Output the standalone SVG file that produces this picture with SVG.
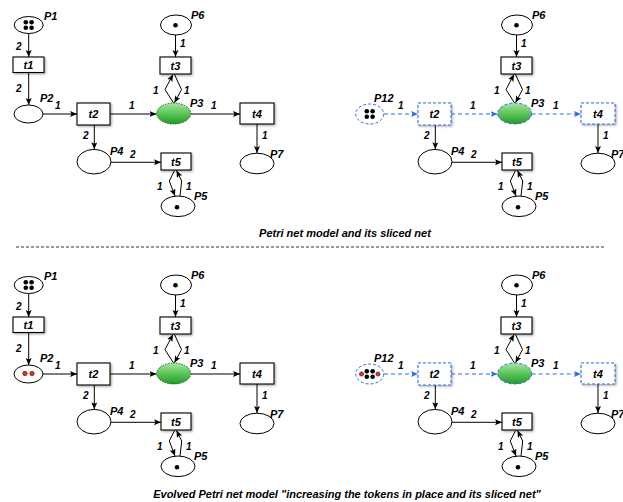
<svg xmlns="http://www.w3.org/2000/svg" width="623" height="502" viewBox="0 0 623 502">
  <defs>
    <style>
      .place { fill: #fff; stroke: #000; stroke-width: 1; }
      .trans { fill: #fff; stroke: #000; stroke-width: 1.1; filter: url(#shadow); }
      .slice-t { fill: #fff; stroke: #2f6de8; stroke-width: 1.1; stroke-dasharray: 3 2; filter: url(#shadow); }
      .slice-p { fill: #fff; stroke: #2f6de8; stroke-width: 1; stroke-dasharray: 3 2; }
      .hot { fill: url(#green); stroke: #1d5a1d; stroke-width: 0.9; stroke-dasharray: 1.5 1.2; }
      .hot-slice { fill: url(#green); stroke: #2f6de8; stroke-width: 1; stroke-dasharray: 3 2; }
      .arc { fill: none; stroke: #000; stroke-width: 1; marker-end: url(#ah); }
      .arc-s { fill: none; stroke: #2f6de8; stroke-width: 1.1; stroke-dasharray: 4 3; marker-end: url(#ahb); }
      .tok { fill: #000; }
      .red { fill: #e0301e; stroke: #4a0e08; stroke-width: 0.6; }
      text { font-family: "Liberation Sans", Arial, sans-serif; font-weight: bold; font-style: italic; fill: #000; }
      .name { font-size: 11px; }
      .tl { font-size: 11px; text-anchor: middle; }
      .w { font-size: 10px; }
      .cap { font-size: 11px; text-anchor: middle; }
    </style>
    <linearGradient id="green" x1="0" y1="0" x2="0" y2="1">
      <stop offset="0" stop-color="#a6e6a0"/>
      <stop offset="0.55" stop-color="#55c252"/>
      <stop offset="1" stop-color="#249a2a"/>
    </linearGradient>
    <filter id="shadow" x="-20%" y="-20%" width="150%" height="160%">
      <feDropShadow dx="1.2" dy="1.2" stdDeviation="0.8" flood-color="#000" flood-opacity="0.35"/>
    </filter>
    <marker id="ah" markerUnits="userSpaceOnUse" markerWidth="8" markerHeight="7" refX="7" refY="3" orient="auto">
      <path d="M0,0 L7,3 L0,6 L1.5,3 z" fill="#000"/>
    </marker>
    <marker id="ahb" markerUnits="userSpaceOnUse" markerWidth="8" markerHeight="7" refX="7" refY="3" orient="auto">
      <path d="M0,0 L7,3 L0,6 L1.5,3 z" fill="#2f6de8"/>
    </marker>
  </defs>

  <rect width="623" height="502" fill="#fff"/>

  <!-- ===== Original Petri net (top left) ===== -->
  <g id="net-a">
    <g id="a-connectors">
      <line class="arc" x1="28.7" y1="33.5" x2="28.7" y2="57"/>
      <line class="arc" x1="28.7" y1="72.5" x2="28.7" y2="105"/>
      <line class="arc" x1="43" y1="114" x2="77" y2="114"/>
      <line class="arc" x1="110" y1="114" x2="156.5" y2="114"/>
      <line class="arc" x1="190.7" y1="114" x2="240" y2="114"/>
      <line class="arc" x1="257" y1="124" x2="257" y2="153"/>
      <line class="arc" x1="175.5" y1="35" x2="175.5" y2="57"/>
      <polyline class="arc" points="173.5,103 165,89.5 173,74.5"/>
      <polyline class="arc" points="174.5,74.5 181.5,89.5 174.5,102.8"/>
      <line class="arc" x1="94.3" y1="125" x2="94.3" y2="149.3"/>
      <line class="arc" x1="111" y1="162.3" x2="161" y2="162.3"/>
      <polyline class="arc" points="174.5,170.5 169.3,181 175,196"/>
      <polyline class="arc" points="180,196 181.7,181 176.5,170.5"/>
      <text class="w" x="16" y="50">2</text>
      <text class="w" x="16" y="92">2</text>
      <text class="w" x="55" y="109">1</text>
      <text class="w" x="129" y="109">1</text>
      <text class="w" x="211" y="109">1</text>
      <text class="w" x="262" y="139">1</text>
      <text class="w" x="180" y="47">1</text>
      <text class="w" x="153" y="94">1</text>
      <text class="w" x="184" y="94">1</text>
      <text class="w" x="83" y="139">2</text>
      <text class="w" x="130" y="158">2</text>
      <text class="w" x="157" y="190">1</text>
      <text class="w" x="186" y="190">1</text>
    </g>
    <g id="a-P1">
      <ellipse class="place" cx="28.7" cy="25" rx="14.5" ry="8.5"/>
      <circle class="tok" cx="25.8" cy="22.2" r="2.3"/><circle class="tok" cx="31.6" cy="22.2" r="2.3"/>
      <circle class="tok" cx="25.8" cy="27.8" r="2.3"/><circle class="tok" cx="31.6" cy="27.8" r="2.3"/>
      <text class="name" x="44" y="20">P1</text>
    </g>
    <g id="a-t1"><rect class="trans" x="13" y="57" width="31" height="15.5"/><text class="tl" x="28.5" y="69">t1</text></g>
    <g id="a-P2">
      <ellipse class="place" cx="28.5" cy="114" rx="14.5" ry="9"/>
      <text class="name" x="40" y="102">P2</text>
    </g>
    <g id="a-t2"><rect class="trans" x="77" y="103" width="33" height="22"/><text class="tl" x="93.5" y="118">t2</text></g>
    <g id="a-P3">
      <ellipse class="hot" cx="173.7" cy="113.5" rx="17" ry="10.5"/>
      <text class="name" x="190" y="107">P3</text>
    </g>
    <g id="a-t4"><rect class="trans" x="240" y="103" width="34" height="21"/><text class="tl" x="257" y="118">t4</text></g>
    <g id="a-P7">
      <ellipse class="place" cx="257" cy="163.5" rx="17" ry="10.3"/>
      <text class="name" x="270" y="158">P7</text>
    </g>
    <g id="a-P6">
      <ellipse class="place" cx="176" cy="25" rx="15.5" ry="10"/>
      <circle class="tok" cx="175.5" cy="25.3" r="2.3"/>
      <text class="name" x="191" y="19">P6</text>
    </g>
    <g id="a-t3"><rect class="trans" x="160" y="57" width="31" height="17"/><text class="tl" x="175.5" y="70">t3</text></g>
    <g id="a-P4">
      <ellipse class="place" cx="94" cy="161.7" rx="17" ry="12.3"/>
      <text class="name" x="110" y="155">P4</text>
    </g>
    <g id="a-t5"><rect class="trans" x="161" y="153" width="30" height="17"/><text class="tl" x="176" y="166">t5</text></g>
    <g id="a-P5">
      <ellipse class="place" cx="178" cy="206.3" rx="17" ry="10.3"/>
      <circle class="tok" cx="177" cy="207.3" r="2.3"/>
      <text class="name" x="194" y="200">P5</text>
    </g>
  </g>

  <!-- ===== Sliced net (top right) ===== -->
  <g id="net-b" transform="translate(341,0)">
    <g id="b-connectors">
      <line class="arc-s" x1="43" y1="114" x2="77" y2="114"/>
      <line class="arc-s" x1="110" y1="114" x2="156.5" y2="114"/>
      <line class="arc-s" x1="190.7" y1="114" x2="240" y2="114"/>
      <line class="arc" x1="257" y1="124" x2="257" y2="153"/>
      <line class="arc" x1="175.5" y1="35" x2="175.5" y2="57"/>
      <polyline class="arc" points="173.5,103 165,89.5 173,74.5"/>
      <polyline class="arc" points="174.5,74.5 181.5,89.5 174.5,102.8"/>
      <line class="arc" x1="94.3" y1="125" x2="94.3" y2="149.3"/>
      <line class="arc" x1="111" y1="162.3" x2="161" y2="162.3"/>
      <polyline class="arc" points="174.5,170.5 169.3,181 175,196"/>
      <polyline class="arc" points="180,196 181.7,181 176.5,170.5"/>
      <text class="w" x="57" y="109">1</text>
      <text class="w" x="129" y="109">1</text>
      <text class="w" x="212" y="109">1</text>
      <text class="w" x="262" y="139">1</text>
      <text class="w" x="180" y="47">1</text>
      <text class="w" x="153" y="94">1</text>
      <text class="w" x="184" y="94">1</text>
      <text class="w" x="83" y="139">2</text>
      <text class="w" x="130" y="158">2</text>
      <text class="w" x="157" y="190">1</text>
      <text class="w" x="186" y="190">1</text>
    </g>
    <g id="b-P12">
      <ellipse class="slice-p" cx="28.7" cy="114" rx="14" ry="10"/>
      <circle class="tok" cx="25.8" cy="111.2" r="2.3"/><circle class="tok" cx="31.6" cy="111.2" r="2.3"/>
      <circle class="tok" cx="25.8" cy="116.8" r="2.3"/><circle class="tok" cx="31.6" cy="116.8" r="2.3"/>
      <text class="name" x="33" y="102">P12</text>
    </g>
    <g id="b-t2"><rect class="slice-t" x="77" y="103" width="33" height="22"/><text class="tl" x="93.5" y="118">t2</text></g>
    <g id="b-P3">
      <ellipse class="hot-slice" cx="173.7" cy="113.5" rx="17" ry="10.5"/>
      <text class="name" x="190" y="107">P3</text>
    </g>
    <g id="b-t4"><rect class="slice-t" x="240" y="103" width="34" height="21"/><text class="tl" x="257" y="118">t4</text></g>
    <g id="b-P7">
      <ellipse class="place" cx="257" cy="163.5" rx="17" ry="10.3"/>
      <text class="name" x="270" y="158">P7</text>
    </g>
    <g id="b-P6">
      <ellipse class="place" cx="176" cy="25" rx="15.5" ry="10"/>
      <circle class="tok" cx="175.5" cy="25.3" r="2.3"/>
      <text class="name" x="191" y="19">P6</text>
    </g>
    <g id="b-t3"><rect class="trans" x="160" y="57" width="31" height="17"/><text class="tl" x="175.5" y="70">t3</text></g>
    <g id="b-P4">
      <ellipse class="place" cx="94" cy="161.7" rx="17" ry="12.3"/>
      <text class="name" x="110" y="155">P4</text>
    </g>
    <g id="b-t5"><rect class="trans" x="161" y="153" width="30" height="17"/><text class="tl" x="176" y="166">t5</text></g>
    <g id="b-P5">
      <ellipse class="place" cx="178" cy="206.3" rx="17" ry="10.3"/>
      <circle class="tok" cx="177" cy="207.3" r="2.3"/>
      <text class="name" x="194" y="200">P5</text>
    </g>
  </g>

  <!-- caption and separator -->
  <text class="cap" x="345" y="237">Petri net model and its sliced net</text>
  <line x1="16" y1="247" x2="606" y2="247" stroke="#000" stroke-width="0.8" stroke-dasharray="3 2"/>

  <!-- ===== Evolved Petri net (bottom left) ===== -->
  <g id="net-c" transform="translate(0,260)">
    <g id="c-connectors">
      <line class="arc" x1="28.7" y1="33.5" x2="28.7" y2="57"/>
      <line class="arc" x1="28.7" y1="72.5" x2="28.7" y2="105"/>
      <line class="arc" x1="43" y1="114" x2="77" y2="114"/>
      <line class="arc" x1="110" y1="114" x2="156.5" y2="114"/>
      <line class="arc" x1="190.7" y1="114" x2="240" y2="114"/>
      <line class="arc" x1="257" y1="124" x2="257" y2="153"/>
      <line class="arc" x1="175.5" y1="35" x2="175.5" y2="57"/>
      <polyline class="arc" points="173.5,103 165,89.5 173,74.5"/>
      <polyline class="arc" points="174.5,74.5 181.5,89.5 174.5,102.8"/>
      <line class="arc" x1="94.3" y1="125" x2="94.3" y2="149.3"/>
      <line class="arc" x1="111" y1="162.3" x2="161" y2="162.3"/>
      <polyline class="arc" points="174.5,170.5 169.3,181 175,196"/>
      <polyline class="arc" points="180,196 181.7,181 176.5,170.5"/>
      <text class="w" x="16" y="50">2</text>
      <text class="w" x="16" y="92">2</text>
      <text class="w" x="55" y="109">1</text>
      <text class="w" x="129" y="109">1</text>
      <text class="w" x="211" y="109">1</text>
      <text class="w" x="262" y="139">1</text>
      <text class="w" x="180" y="47">1</text>
      <text class="w" x="153" y="94">1</text>
      <text class="w" x="184" y="94">1</text>
      <text class="w" x="83" y="139">2</text>
      <text class="w" x="130" y="158">2</text>
      <text class="w" x="157" y="190">1</text>
      <text class="w" x="186" y="190">1</text>
    </g>
    <g id="c-P1">
      <ellipse class="place" cx="28.7" cy="25" rx="14.5" ry="8.5"/>
      <circle class="tok" cx="25.8" cy="22.2" r="2.3"/><circle class="tok" cx="31.6" cy="22.2" r="2.3"/>
      <circle class="tok" cx="25.8" cy="27.8" r="2.3"/><circle class="tok" cx="31.6" cy="27.8" r="2.3"/>
      <text class="name" x="44" y="20">P1</text>
    </g>
    <g id="c-t1"><rect class="trans" x="13" y="57" width="31" height="15.5"/><text class="tl" x="28.5" y="69">t1</text></g>
    <g id="c-P2">
      <ellipse class="place" cx="28.5" cy="114" rx="14.5" ry="9"/>
      <circle class="red" cx="25" cy="113.5" r="2.2"/><circle class="red" cx="32" cy="113.5" r="2.2"/>
      <text class="name" x="40" y="102">P2</text>
    </g>
    <g id="c-t2"><rect class="trans" x="77" y="103" width="33" height="22"/><text class="tl" x="93.5" y="118">t2</text></g>
    <g id="c-P3">
      <ellipse class="hot" cx="173.7" cy="113.5" rx="17" ry="10.5"/>
      <text class="name" x="190" y="107">P3</text>
    </g>
    <g id="c-t4"><rect class="trans" x="240" y="103" width="34" height="21"/><text class="tl" x="257" y="118">t4</text></g>
    <g id="c-P7">
      <ellipse class="place" cx="257" cy="163.5" rx="17" ry="10.3"/>
      <text class="name" x="270" y="158">P7</text>
    </g>
    <g id="c-P6">
      <ellipse class="place" cx="176" cy="25" rx="15.5" ry="10"/>
      <circle class="tok" cx="175.5" cy="25.3" r="2.3"/>
      <text class="name" x="191" y="19">P6</text>
    </g>
    <g id="c-t3"><rect class="trans" x="160" y="57" width="31" height="17"/><text class="tl" x="175.5" y="70">t3</text></g>
    <g id="c-P4">
      <ellipse class="place" cx="94" cy="161.7" rx="17" ry="12.3"/>
      <text class="name" x="110" y="155">P4</text>
    </g>
    <g id="c-t5"><rect class="trans" x="161" y="153" width="30" height="17"/><text class="tl" x="176" y="166">t5</text></g>
    <g id="c-P5">
      <ellipse class="place" cx="178" cy="206.3" rx="17" ry="10.3"/>
      <circle class="tok" cx="177" cy="207.3" r="2.3"/>
      <text class="name" x="194" y="200">P5</text>
    </g>
  </g>

  <!-- ===== Evolved sliced net (bottom right) ===== -->
  <g id="net-d" transform="translate(341,260)">
    <g id="d-connectors">
      <line class="arc-s" x1="43" y1="114" x2="77" y2="114"/>
      <line class="arc-s" x1="110" y1="114" x2="156.5" y2="114"/>
      <line class="arc-s" x1="190.7" y1="114" x2="240" y2="114"/>
      <line class="arc" x1="257" y1="124" x2="257" y2="153"/>
      <line class="arc" x1="175.5" y1="35" x2="175.5" y2="57"/>
      <polyline class="arc" points="173.5,103 165,89.5 173,74.5"/>
      <polyline class="arc" points="174.5,74.5 181.5,89.5 174.5,102.8"/>
      <line class="arc" x1="94.3" y1="125" x2="94.3" y2="149.3"/>
      <line class="arc" x1="111" y1="162.3" x2="161" y2="162.3"/>
      <polyline class="arc" points="174.5,170.5 169.3,181 175,196"/>
      <polyline class="arc" points="180,196 181.7,181 176.5,170.5"/>
      <text class="w" x="57" y="109">1</text>
      <text class="w" x="129" y="109">1</text>
      <text class="w" x="212" y="109">1</text>
      <text class="w" x="262" y="139">1</text>
      <text class="w" x="180" y="47">1</text>
      <text class="w" x="153" y="94">1</text>
      <text class="w" x="184" y="94">1</text>
      <text class="w" x="83" y="139">2</text>
      <text class="w" x="130" y="158">2</text>
      <text class="w" x="157" y="190">1</text>
      <text class="w" x="186" y="190">1</text>
    </g>
    <g id="d-P12">
      <ellipse class="slice-p" cx="28.7" cy="114" rx="14" ry="10"/>
      <circle class="red" cx="20.5" cy="114" r="2.1"/>
      <circle class="tok" cx="25.8" cy="111.2" r="2.3"/><circle class="tok" cx="31.6" cy="111.2" r="2.3"/>
      <circle class="tok" cx="25.8" cy="116.8" r="2.3"/><circle class="tok" cx="31.6" cy="116.8" r="2.3"/>
      <circle class="red" cx="37" cy="114" r="2.1"/>
      <text class="name" x="33" y="102">P12</text>
    </g>
    <g id="d-t2"><rect class="slice-t" x="77" y="103" width="33" height="22"/><text class="tl" x="93.5" y="118">t2</text></g>
    <g id="d-P3">
      <ellipse class="hot-slice" cx="173.7" cy="113.5" rx="17" ry="10.5"/>
      <text class="name" x="190" y="107">P3</text>
    </g>
    <g id="d-t4"><rect class="slice-t" x="240" y="103" width="34" height="21"/><text class="tl" x="257" y="118">t4</text></g>
    <g id="d-P7">
      <ellipse class="place" cx="257" cy="163.5" rx="17" ry="10.3"/>
      <text class="name" x="270" y="158">P7</text>
    </g>
    <g id="d-P6">
      <ellipse class="place" cx="176" cy="25" rx="15.5" ry="10"/>
      <circle class="tok" cx="175.5" cy="25.3" r="2.3"/>
      <text class="name" x="191" y="19">P6</text>
    </g>
    <g id="d-t3"><rect class="trans" x="160" y="57" width="31" height="17"/><text class="tl" x="175.5" y="70">t3</text></g>
    <g id="d-P4">
      <ellipse class="place" cx="94" cy="161.7" rx="17" ry="12.3"/>
      <text class="name" x="110" y="155">P4</text>
    </g>
    <g id="d-t5"><rect class="trans" x="161" y="153" width="30" height="17"/><text class="tl" x="176" y="166">t5</text></g>
    <g id="d-P5">
      <ellipse class="place" cx="178" cy="206.3" rx="17" ry="10.3"/>
      <circle class="tok" cx="177" cy="207.3" r="2.3"/>
      <text class="name" x="194" y="200">P5</text>
    </g>
  </g>

  <text class="cap" x="347" y="498">Evolved Petri net model "increasing the tokens in place and its sliced net"</text>
</svg>
